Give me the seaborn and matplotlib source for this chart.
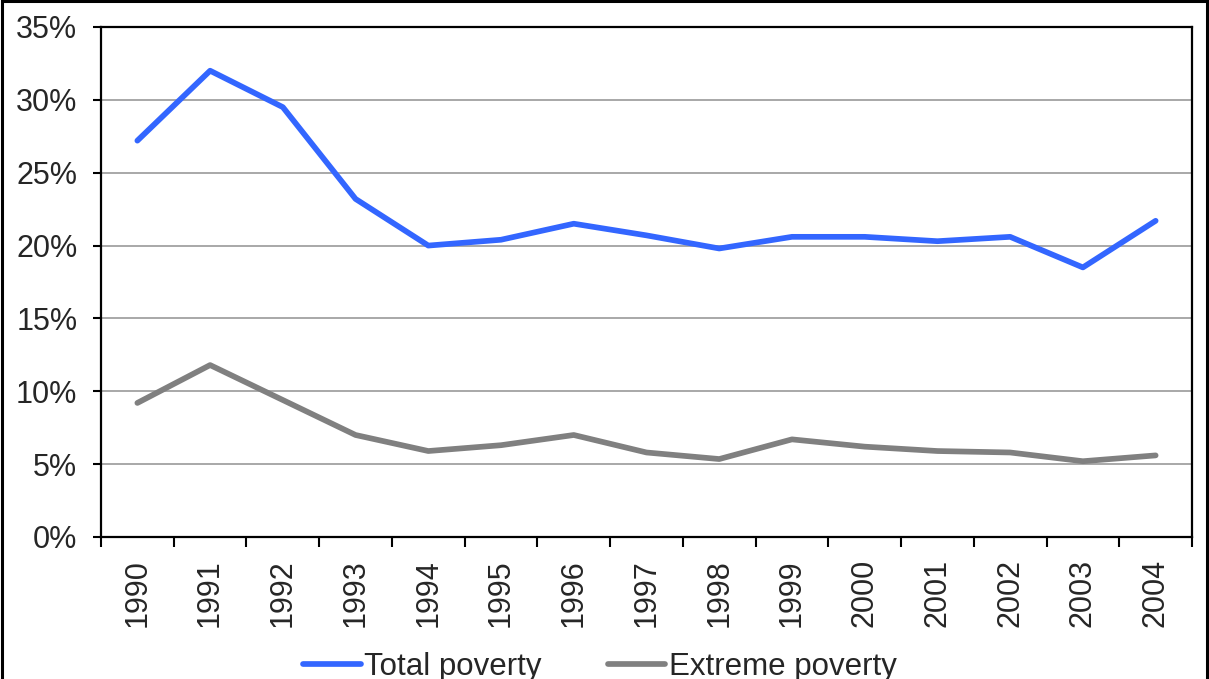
import numpy as np
import pandas as pd
import matplotlib
matplotlib.use("Agg")
import matplotlib.pyplot as plt
from matplotlib.patches import Rectangle
from matplotlib.ticker import FixedLocator, PercentFormatter
import seaborn as sns


YEARS = [str(y) for y in range(1990, 2005)]
TOTAL_POVERTY = [27.2, 32.0, 29.5, 23.2, 20.0, 20.4, 21.5, 20.7, 19.8, 20.6, 20.6, 20.3, 20.6, 18.5, 21.7]
EXTREME_POVERTY = [9.2, 11.8, 9.4, 7.0, 5.9, 6.3, 7.0, 5.8, 5.35, 6.7, 6.2, 5.9, 5.8, 5.2, 5.6]

SERIES = ["Total poverty", "Extreme poverty"]
COLORS = {"Total poverty": "#3366FF", "Extreme poverty": "#808080"}

W, H = 1209, 679


def main() -> None:
    sns.set_style("white")
    plt.rcParams["font.family"] = ["Liberation Sans", "DejaVu Sans"]

    data = pd.DataFrame({
        "year": YEARS * 2,
        "value": TOTAL_POVERTY + EXTREME_POVERTY,
        "series": [SERIES[0]] * len(YEARS) + [SERIES[1]] * len(YEARS),
    })

    fig = plt.figure(figsize=(W / 100, H / 100), dpi=100)
    ax = fig.add_axes([101 / W, 1 - 537 / H, (1192 - 101) / W, (537 - 27) / H])

    sns.lineplot(data, x="year", y="value", hue="series", palette=COLORS,
                 linewidth=4.1, ax=ax, legend=False, sort=False)

    ax.set_xlim(-0.5, len(YEARS) - 0.5)
    ax.set_ylim(0, 35)
    ax.set_yticks(np.arange(0, 36, 5))
    ax.yaxis.set_major_formatter(PercentFormatter(decimals=0))
    ax.grid(axis="y", color="#999999", linewidth=1.2)
    ax.set_axisbelow(True)

    ax.set_xticks(range(len(YEARS)))
    ax.set_xticklabels(YEARS, rotation=90)
    ax.xaxis.set_minor_locator(FixedLocator(np.arange(-0.5, len(YEARS), 1.0)))
    ax.tick_params(axis="x", which="major", length=0, pad=16, labelsize=22)
    ax.tick_params(axis="x", which="minor", length=7, width=1.5, direction="out", color="black", bottom=True)
    ax.tick_params(axis="y", length=6, width=1.5, direction="out", color="black", left=True, pad=11, labelsize=22)

    ax.set_xlabel("")
    ax.set_ylabel("")
    for spine in ax.spines.values():
        spine.set_visible(True)
        spine.set_color("black")
        spine.set_linewidth(1.6)

    # legend sits at the bottom edge and is partly cut off, as in the source
    handles = [plt.Line2D([], [], color=COLORS[s], linewidth=4.1, solid_capstyle="round") for s in SERIES]
    fig.legend(handles, SERIES, loc="center", bbox_to_anchor=(600 / W, 1 - 667 / H), ncol=2, frameon=False,
               fontsize=22.5, handlelength=1.85, handletextpad=0.12, columnspacing=2.1)

    fig.patches.append(Rectangle((1.5 / W, -0.1), 1205 / W, 1.1 - 1.5 / H, transform=fig.transFigure,
                                 fill=False, edgecolor="black", linewidth=2.2))

    fig.savefig("out.png", dpi=100)
    plt.close(fig)


if __name__ == "__main__":
    main()
